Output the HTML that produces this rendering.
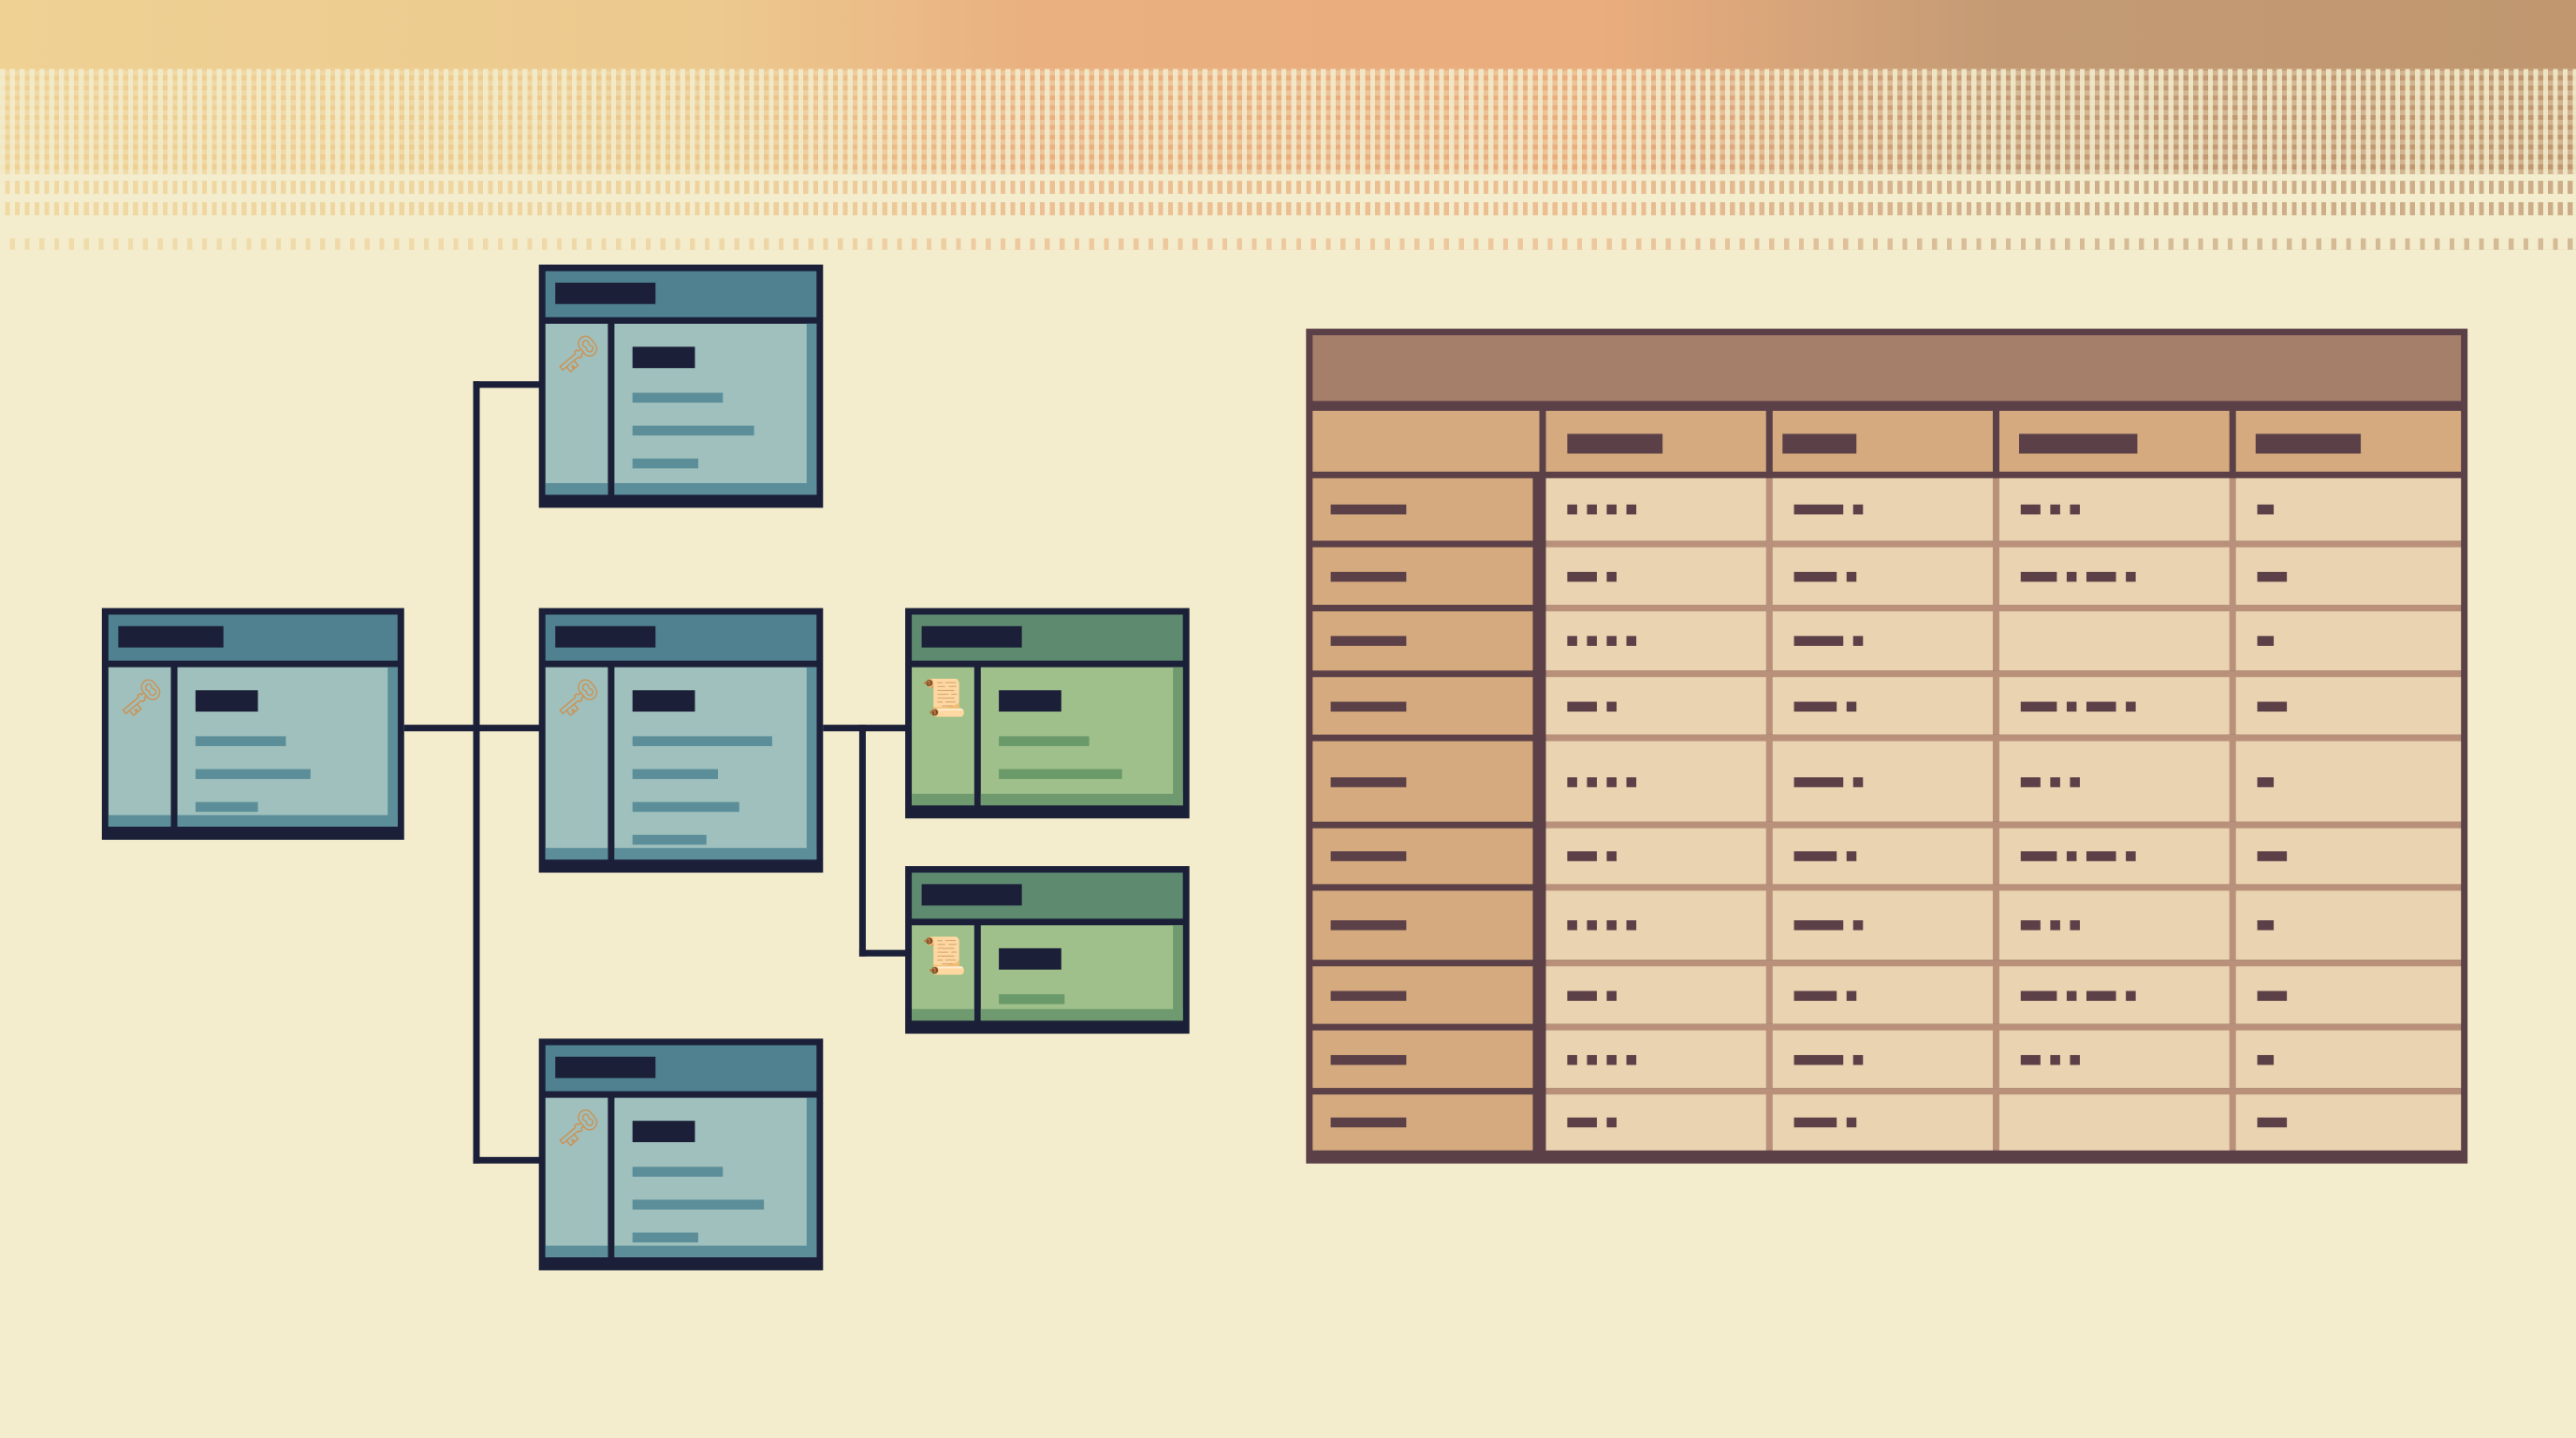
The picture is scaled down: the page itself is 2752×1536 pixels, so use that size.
<!DOCTYPE html>
<html><head><meta charset="utf-8"><style>
html,body{margin:0;padding:0;}
body{width:2752px;height:1536px;overflow:hidden;background:#f3edcd;position:relative;font-family:"Liberation Sans",sans-serif;}
#s{position:absolute;left:0;top:0;width:1568px;height:875px;transform:scale(1.7551,1.7554);transform-origin:0 0;}
.a{position:absolute;}
.band{left:0;width:1568px;background:linear-gradient(90deg,#efd194 0%,#ecc98e 28%,#eab080 40%,#eaad7d 62%,#d6a47a 70%,#c39a74 78%,#c0976f 100%);}
</style></head><body><div id="s">
<div class="a band" style="top:0;height:42px"></div>
<div class="a band" style="top:42px;height:64px"></div>
<div class="a" style="top:42px;left:0;width:1568px;height:64px;background:repeating-linear-gradient(90deg,rgba(243,237,205,.85) 0 3px,transparent 3px 6px);"></div>
<div class="a" style="top:42px;left:0;width:1568px;height:64px;background:repeating-linear-gradient(0deg,rgba(243,237,205,.35) 0 3px,transparent 3px 6px);"></div>
<div class="a band" style="top:110px;height:8px;opacity:.75"></div>
<div class="a band" style="top:123px;height:8px;opacity:.75"></div>
<div class="a" style="top:110px;left:0;width:1568px;height:21px;background:repeating-linear-gradient(90deg,#f3edcd 0 3px,transparent 3px 6px);"></div>
<div class="a" style="top:118px;left:0;width:1568px;height:5px;background:#f3edcd"></div>
<div class="a band" style="top:145px;height:7px;opacity:.6"></div>
<div class="a" style="top:145px;left:0;width:1568px;height:7px;background:repeating-linear-gradient(90deg,#f3edcd 0 6px,transparent 6px 9px);"></div>
<div id="c"></div>
</div>
<script>
var h='';
function r(x,y,w,hh,c){h+='<div class="a" style="left:'+x+'px;top:'+y+'px;width:'+w+'px;height:'+hh+'px;background:'+c+'"></div>';}
var D='#1b2038';
r(288,232,4,476,D);r(246,441,84,4,D);r(288,232,42,4,D);r(288,704,42,4,D);
r(501,441,52,4,D);r(523,441,4,141,D);r(523,578,30,4,D);
function node(x,y,w,hh,g,lines,icon){
 var tb=g?'#5e8a70':'#4f8190',bd=g?'#9fc08a':'#9fc0bd',dk=g?'#6f9a6f':'#5b8e99',ln=g?'#6a9a6a':'#5b8e99';
 r(x,y,w,hh,D);
 r(x+4,y+4,w-8,28,tb);
 r(x+10,y+11,w*0.35,13,D);
 r(x+4,y+36,38,hh-44,bd);r(x+4,y+hh-15,38,7,dk);
 r(x+46,y+36,w-50,hh-44,bd);r(x+w-10,y+36,6,hh-44,dk);
 r(x+57,y+50,38,13,D);
 lines.forEach(function(l,i){var yy=y+78+i*20;if(yy+6<=y+hh-8)r(x+57,yy,l[0],6,ln);});
 r(x+46,y+hh-15,w-50,7,dk);
 h+='<div class="a" style="left:'+(x+10)+'px;top:'+(y+42)+'px;font-size:22px;color:#c9955a">'+icon+'</div>';
}
node(62,370,184,141,0,[[55],[70],[38]],'&#x1F5DD;');
node(328,161,173,148,0,[[55],[74],[40]],'&#x1F5DD;');
node(328,370,173,161,0,[[85],[52],[65],[45]],'&#x1F5DD;');
node(328,632,173,141,0,[[55],[80],[40]],'&#x1F5DD;');
node(551,370,173,128,1,[[55],[75],[40]],'&#x1F4DC;');
node(551,527,173,102,1,[[40]],'&#x1F4DC;');
var TL='#5b4048',TI='#b9917b';
r(795,200,707,508,TL);
r(799,204,699,40,'#a67f6b');
var cols=[799,937,1075,1213,1357,1498];
var rows=[291,333,372,412,451,504,542,588,627,666,704];
for(var c=0;c<5;c++){r(cols[c]+(c?4:0),250,cols[c+1]-cols[c]-(c?4:0),37,'#d4aa7e');}
[[954,58],[1085,45],[1229,72],[1373,64]].forEach(function(t){r(t[0],264,t[1],12,TL);});
for(var i=0;i<10;i++){
 var y=rows[i],hh=rows[i+1]-rows[i]-4;
 r(799,y,134,hh,'#d4aa7e');
 r(941,y-(i?4:0),557,hh+(i?4:0),TI);
 for(var c=1;c<5;c++){r(cols[c]+4,y,cols[c+1]-cols[c]-4-(c<4?0:0),hh,'#e9d3b0');}
 var my=y+hh/2-3;
 r(810,my,46,6,TL);
 var pats=[[22,6,18,6],[6,6,6,6],[30,6],[12,6,6],[18,6],[26,6]];
 for(var c=1;c<5;c++){
  var p=pats[(i*3+c)%pats.length],x=cols[c]+17;
  if(c==4)p=[[10],[18]][i%2];
  if((i==2||i==9)&&c==3)continue;
  p.forEach(function(w){r(x,my,w,6,TL);x+=w+6;});
 }
}
r(933,291,4,413,TL);
document.getElementById('c').innerHTML=h;
</script>
</body></html>
